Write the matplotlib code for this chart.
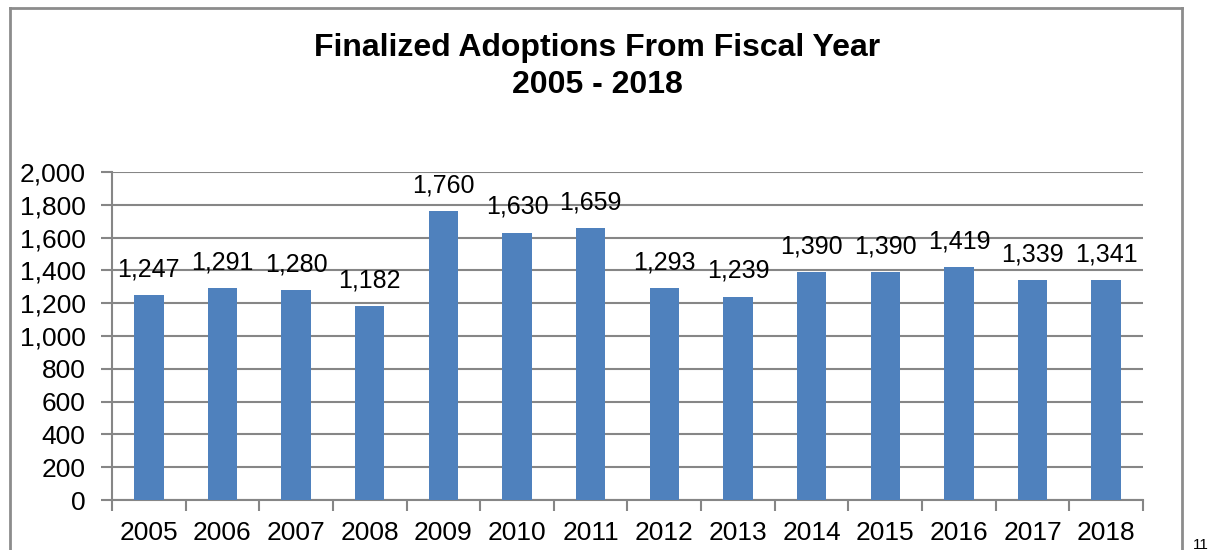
import matplotlib
matplotlib.use("Agg")
import matplotlib.pyplot as plt
from matplotlib.lines import Line2D
from matplotlib.ticker import FuncFormatter

# Data
years = ["2005", "2006", "2007", "2008", "2009", "2010", "2011",
         "2012", "2013", "2014", "2015", "2016", "2017", "2018"]
adoptions = [1247, 1291, 1280, 1182, 1760, 1630, 1659,
             1293, 1239, 1390, 1390, 1419, 1339, 1341]
y_ticks = [0, 200, 400, 600, 800, 1000, 1200, 1400, 1600, 1800, 2000]

plt.rcParams['font.family'] = ['Liberation Sans', 'DejaVu Sans']

bar_color = "#4F81BD"
grid_color = "#868686"

fig = plt.figure(figsize=(12.09, 5.5), dpi=100)
ax = fig.add_axes([0.0926, 0.0909, 0.8528, 0.5964])

x = range(len(years))
bars = ax.bar(x, adoptions, width=0.4, color=bar_color, zorder=3)

for xi, v in zip(x, adoptions):
    ax.annotate("{:,}".format(v), (xi, v), xytext=(0, 10), textcoords="offset points",
                ha="center", va="bottom", fontsize=18)

ax.set_xlim(-0.5, len(years) - 0.5)
ax.set_ylim(0, 2000)
ax.set_yticks(y_ticks)
ax.yaxis.set_major_formatter(FuncFormatter(lambda v, p: "{:,}".format(int(v))))
ax.yaxis.grid(True, color=grid_color, linewidth=1.5, zorder=0)

ax.set_xticks(list(x))
ax.set_xticklabels(years)
ax.set_xticks([i - 0.5 for i in range(len(years) + 1)], minor=True)
ax.tick_params(axis="x", which="major", length=0, pad=15, labelsize=19)
ax.tick_params(axis="x", which="minor", length=8, width=1.5, color=grid_color)
ax.tick_params(axis="y", length=8, width=1.5, color=grid_color, pad=11, labelsize=19)

for side in ["top", "right"]:
    ax.spines[side].set_visible(False)
for side in ["left", "bottom"]:
    ax.spines[side].set_color(grid_color)
    ax.spines[side].set_linewidth(1.5)

fig.text(0.494, 0.94, "Finalized Adoptions From Fiscal Year\n2005 - 2018",
         ha="center", va="top", fontsize=23, fontweight="bold", linespacing=1.3)

# chart frame (bottom edge runs off the page)
frame = dict(color="#8c8c8c", linewidth=2, transform=fig.transFigure)
fig.add_artist(Line2D([0.0083, 0.0083], [0.0, 0.9855], **frame))
fig.add_artist(Line2D([0.0083, 0.978], [0.9855, 0.9855], **frame))
fig.add_artist(Line2D([0.978, 0.978], [0.0, 0.9855], **frame))

fig.text(0.987, 0.022, "11", ha="left", va="top", fontsize=11)

fig.savefig("out.png", dpi=100)
